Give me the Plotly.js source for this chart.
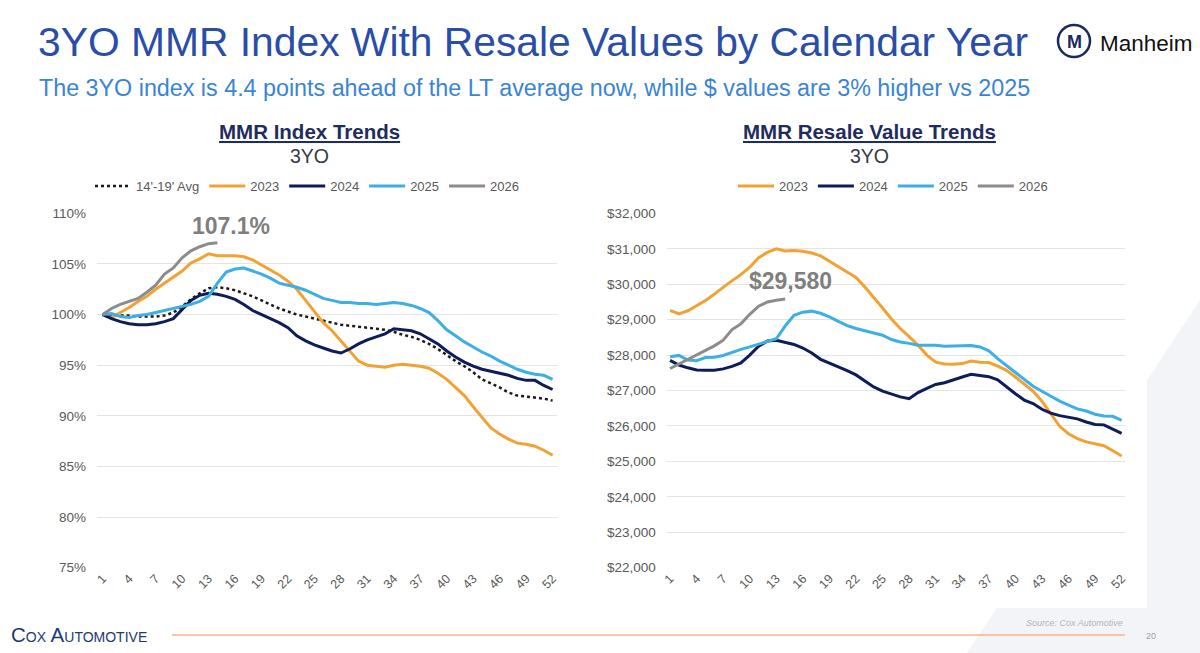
<!DOCTYPE html>
<html><head><meta charset="utf-8">
<script src="https://cdn.plot.ly/plotly-3.0.1.min.js"></script>
<style>html,body{margin:0;padding:0;background:#fff;overflow:hidden}#chart{width:1200px;height:653px;}</style>
</head><body><div id="chart"></div>
<script>
// ---------- DATA ----------
const weeks = [1,2,3,4,5,6,7,8,9,10,11,12,13,14,15,16,17,18,19,20,21,22,23,24,25,26,27,28,29,30,31,32,33,34,35,36,37,38,39,40,41,42,43,44,45,46,47,48,49,50,51,52];
const weekTicks = [1,4,7,10,13,16,19,22,25,28,31,34,37,40,43,46,49,52];

// MMR Index (3YO), %
const idxAvg = [100,99.9,99.9,99.9,99.8,99.8,99.8,99.9,100.2,100.8,101.5,102.1,102.6,102.7,102.6,102.4,102.1,101.8,101.4,101.0,100.6,100.3,100.0,99.8,99.6,99.4,99.2,99.0,98.9,98.8,98.7,98.6,98.5,98.3,98.0,97.8,97.5,97.1,96.6,96.0,95.4,94.9,94.3,93.6,93.2,92.8,92.3,92.0,91.9,91.8,91.7,91.5];
const idx2023 = [100,99.7,100.2,100.7,101.3,101.8,102.5,103.1,103.7,104.3,105.1,105.5,106.0,105.8,105.8,105.8,105.7,105.4,104.9,104.4,103.9,103.3,102.5,101.4,100.3,99.2,98.4,97.4,96.4,95.4,95.0,94.9,94.8,95.0,95.1,95.0,94.9,94.7,94.2,93.6,92.8,92.0,90.9,89.8,88.8,88.2,87.7,87.3,87.2,87.0,86.6,86.1];
const idx2024 = [100,99.6,99.3,99.1,99.0,99.0,99.1,99.3,99.6,100.5,101.4,101.9,102.1,102.0,101.8,101.5,101.0,100.4,100.0,99.6,99.2,98.7,97.9,97.4,97.0,96.7,96.4,96.2,96.6,97.1,97.5,97.8,98.1,98.6,98.5,98.4,98.1,97.6,97.1,96.4,95.8,95.3,94.9,94.6,94.4,94.2,94.0,93.7,93.5,93.5,93.0,92.6];
const idx2025 = [100,100.1,99.8,99.7,99.9,100.0,100.2,100.4,100.6,100.8,101.0,101.3,101.8,103.1,104.2,104.5,104.6,104.3,104.0,103.6,103.1,102.9,102.7,102.4,102.0,101.6,101.4,101.2,101.2,101.1,101.1,101.0,101.1,101.2,101.1,100.9,100.6,100.2,99.4,98.5,97.9,97.3,96.8,96.3,95.9,95.4,95.0,94.6,94.3,94.1,94.0,93.6];
const idx2026 = [100,100.6,101.0,101.3,101.6,102.2,102.9,104.0,104.6,105.6,106.3,106.7,107.0,107.1];

// MMR Resale Value (3YO), $
const val2023 = [29264,29160,29250,29400,29540,29720,29920,30100,30270,30480,30750,30900,31000,30940,30950,30930,30880,30800,30650,30500,30360,30190,29920,29640,29330,29020,28750,28520,28280,28000,27800,27750,27740,27760,27830,27800,27790,27690,27570,27380,27180,26980,26700,26340,25990,25780,25640,25550,25500,25440,25300,25150];
const val2024 = [27850,27720,27640,27580,27570,27570,27610,27680,27780,28000,28250,28400,28420,28360,28300,28200,28060,27880,27780,27680,27560,27440,27270,27100,26980,26890,26820,26770,26940,27060,27170,27220,27290,27380,27460,27420,27390,27300,27100,26910,26730,26630,26470,26360,26290,26240,26200,26110,26040,26030,25900,25790];
const val2025 = [27950,27990,27860,27840,27930,27940,27990,28080,28160,28230,28300,28380,28460,28820,29120,29210,29240,29180,29080,28950,28830,28750,28690,28630,28560,28440,28370,28330,28280,28280,28280,28250,28260,28280,28270,28230,28120,27900,27700,27500,27300,27120,26980,26830,26700,26590,26480,26420,26330,26280,26270,26160];
const val2026 = [27620,27750,27880,27990,28120,28260,28420,28720,28880,29150,29380,29500,29550,29580];

const seriesNames = ["14'-19' Avg","2023","2024","2025","2026"];
const idxTicks = [75,80,85,90,95,100,105,110];
const valTicks = [22000,23000,24000,25000,26000,27000,28000,29000,30000,31000,32000];

// ---------- STYLE ----------
const C = {avg:'#1a1a1a', y23:'#F2A232', y24:'#0E1C5A', y25:'#3DAEE6', y26:'#8C8C8C'};
const FONT = 'Arial, "Liberation Sans", sans-serif';
const W = 1200, H = 653;
const px = x => x / W, py = y => 1 - y / H;

function line(x, y, name, color, xa, ya, leg, dash, width) {
  return {x, y, name, type:'scatter', mode:'lines', xaxis:xa, yaxis:ya, legend:leg,
    line:{color, width: width || 3, dash: dash || 'solid'}, hoverinfo:'skip'};
}
const last = a => a[a.length - 1];

const traces = [
  line(weeks, idxAvg, seriesNames[0], C.avg, 'x', 'y', 'legend', 'dot', 2.5),
  line(weeks, idx2023, seriesNames[1], C.y23, 'x', 'y', 'legend'),
  line(weeks, idx2024, seriesNames[2], C.y24, 'x', 'y', 'legend'),
  line(weeks, idx2025, seriesNames[3], C.y25, 'x', 'y', 'legend'),
  line(weeks.slice(0, idx2026.length), idx2026, seriesNames[4], C.y26, 'x', 'y', 'legend'),
  line(weeks, val2023, seriesNames[1], C.y23, 'x2', 'y2', 'legend2'),
  line(weeks, val2024, seriesNames[2], C.y24, 'x2', 'y2', 'legend2'),
  line(weeks, val2025, seriesNames[3], C.y25, 'x2', 'y2', 'legend2'),
  line(weeks.slice(0, val2026.length), val2026, seriesNames[4], C.y26, 'x2', 'y2', 'legend2'),
];

const tickFont = {family: FONT, size: 13.5, color: '#595959'};
const xTickFont = {family: FONT, size: 12.5, color: '#595959'};
function xax(domain, range) {
  return {domain, range, tickmode:'array', tickvals: weekTicks, tickangle: -45,
    showgrid:false, zeroline:false, showline:false, ticks:'', tickfont: xTickFont, fixedrange:true};
}
function yax(domain, range, tickvals, ticktext, anchor) {
  return {domain, range, tickmode:'array', tickvals, ticktext, anchor,
    showgrid:true, gridcolor:'#E4E4E4', gridwidth:1, zeroline:false, showline:false, ticks:'',
    tickfont: tickFont, ticklabelstandoff: 10, fixedrange:true};
}

const yDom = [py(568), py(213)];
const legFont = {family: FONT, size: 13, color:'#595959'};
const layout = {
  width: W, height: H, margin:{l:0, r:0, t:0, b:0},
  paper_bgcolor:'rgba(0,0,0,0)', plot_bgcolor:'rgba(0,0,0,0)',
  font:{family: FONT},
  xaxis: xax([px(97), px(557)], [0.35, 52.5]),
  yaxis: yax(yDom, [74.97, 110.03], idxTicks, idxTicks.map(v => v + '%'), 'x'),
  xaxis2: Object.assign(xax([px(666.7), px(1125)], [0.62, 52.38]), {anchor:'y2'}),
  yaxis2: yax(yDom, [21990, 32010], valTicks, valTicks.map(v => '$' + v.toLocaleString('en-US')), 'x2'),
  legend: {orientation:'h', x: px(90), xanchor:'left', y: py(186), yanchor:'middle',
    font: legFont, bgcolor:'rgba(0,0,0,0)', itemwidth: 36},
  legend2: {orientation:'h', x: px(733), xanchor:'left', y: py(186), yanchor:'middle',
    font: legFont, bgcolor:'rgba(0,0,0,0)', itemwidth: 36},
  showlegend: true,
  shapes: [
    // pale background wedge bottom-right
    {type:'path', xref:'paper', yref:'paper', layer:'below', line:{width:0}, fillcolor:'#F3F4F8',
      path:`M ${px(967)} ${py(653)} L ${px(1200)} ${py(653)} L ${px(1200)} ${py(300)} Z`},
    // white chart panel
    {type:'rect', xref:'paper', yref:'paper', layer:'below', line:{width:0}, fillcolor:'#FFFFFF',
      x0: px(0), x1: px(1147), y0: py(608), y1: py(110)},
    // footer orange rule
    {type:'line', xref:'paper', yref:'paper', x0: px(172), x1: px(1125), y0: py(635), y1: py(635),
      line:{color:'#F5B48A', width:1.5}},
    // Manheim logo ring
    {type:'circle', xref:'paper', yref:'paper', x0: px(1058), x1: px(1090), y0: py(57), y1: py(25),
      line:{color:'#1B2A5C', width:2.5}, fillcolor:'#FFFFFF'},
  ],
  annotations: [
    {text:'3YO MMR Index With Resale Values by Calendar Year', xref:'paper', yref:'paper',
      x: px(36), y: py(42), xanchor:'left', yanchor:'middle', showarrow:false,
      font:{family: FONT, size: 40.8, color:'#2A4DA8'}},
    {text:'The 3YO index is 4.4 points ahead of the LT average now, while $ values are 3% higher vs 2025',
      xref:'paper', yref:'paper', x: px(37), y: py(88), xanchor:'left', yanchor:'middle', showarrow:false,
      font:{family: FONT, size: 23.3, color:'#3A84D6'}},
    {text:'<b><u>MMR Index Trends</u></b>', xref:'paper', yref:'paper', x: px(309), y: py(131),
      xanchor:'center', yanchor:'middle', showarrow:false, font:{family: FONT, size: 20.5, color:'#1F2D5E'}},
    {text:'3YO', xref:'paper', yref:'paper', x: px(309), y: py(156), xanchor:'center', yanchor:'middle',
      showarrow:false, font:{family: FONT, size: 19.5, color:'#333A4C'}},
    {text:'<b><u>MMR Resale Value Trends</u></b>', xref:'paper', yref:'paper', x: px(869), y: py(131),
      xanchor:'center', yanchor:'middle', showarrow:false, font:{family: FONT, size: 20.5, color:'#1F2D5E'}},
    {text:'3YO', xref:'paper', yref:'paper', x: px(869), y: py(156), xanchor:'center', yanchor:'middle',
      showarrow:false, font:{family: FONT, size: 19.5, color:'#333A4C'}},
    {text:'<b>' + last(idx2026).toFixed(1) + '%</b>', xref:'paper', yref:'paper', x: px(231), y: py(226),
      xanchor:'center', yanchor:'middle', showarrow:false, font:{family: FONT, size: 23, color:'#7F7F7F'}},
    {text:'<b>$' + last(val2026).toLocaleString('en-US') + '</b>', xref:'paper', yref:'paper', x: px(790), y: py(281),
      xanchor:'center', yanchor:'middle', showarrow:false, font:{family: FONT, size: 23, color:'#7F7F7F'}},
    // Manheim logo
    {text:'<b>M</b>', xref:'paper', yref:'paper', x: px(1074), y: py(42), xanchor:'center', yanchor:'middle',
      showarrow:false, font:{family: FONT, size: 18, color:'#1B2A5C'}},
    {text:'Manheim', xref:'paper', yref:'paper', x: px(1098), y: py(43), xanchor:'left', yanchor:'middle',
      showarrow:false, font:{family: FONT, size: 22.5, color:'#111111'}},
    // footer
    {text:'Cox Automotive', xref:'paper', yref:'paper', x: px(9), y: py(634), xanchor:'left', yanchor:'middle',
      showarrow:false, font:{family: FONT, size: 20.5, color:'#1E3A6E', variant:'small-caps'}},
    {text:'<i>Source: Cox Automotive</i>', xref:'paper', yref:'paper', x: px(1125), y: py(623), xanchor:'right', yanchor:'middle',
      showarrow:false, font:{family: FONT, size: 9, color:'#B4B4B4'}},
    {text:'20', xref:'paper', yref:'paper', x: px(1144), y: py(636), xanchor:'left', yanchor:'middle',
      showarrow:false, font:{family: FONT, size: 9, color:'#A0A0A0'}},
  ]
};

Plotly.newPlot('chart', traces, layout, {displayModeBar:false, staticPlot:true});
</script>
</body></html>
